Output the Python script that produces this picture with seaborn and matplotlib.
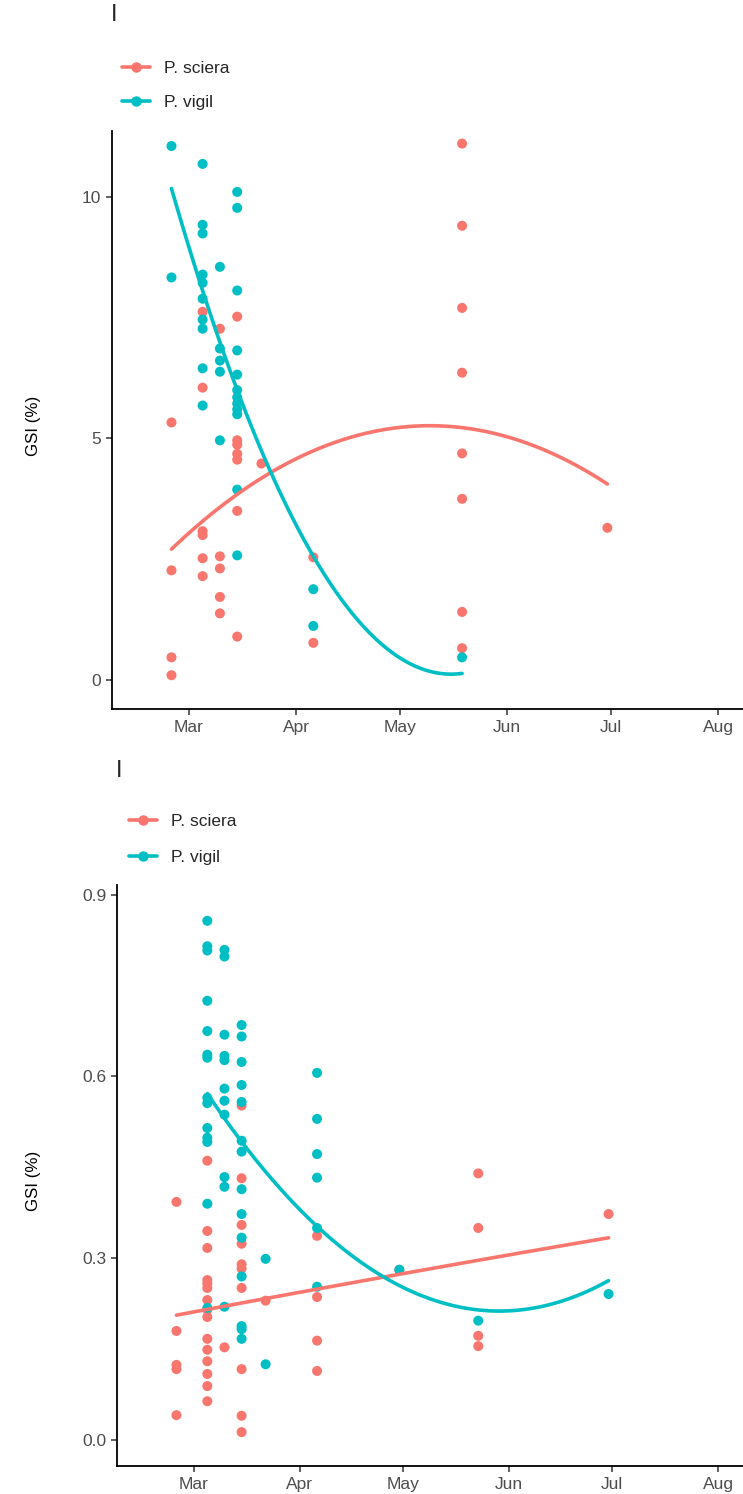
import matplotlib
matplotlib.use("Agg")
import matplotlib.pyplot as plt
from matplotlib.lines import Line2D
import numpy as np
import pandas as pd
import seaborn as sns

species = ["P. sciera", "P. vigil"]
palette = ["#F8766D", "#00BFC4"]

month_dates = ["2019-03-01", "2019-04-01", "2019-05-01", "2019-06-01", "2019-07-01", "2019-08-01"]
month_labels = ["Mar", "Apr", "May", "Jun", "Jul", "Aug"]

# panel 1 (upper)
p1_sciera_date = (["2019-02-24"] * 4 + ["2019-03-05"] * 6 + ["2019-03-10"] * 5 + ["2019-03-15"] * 7
                  + ["2019-03-22"] + ["2019-04-06"] * 2 + ["2019-05-19"] * 8 + ["2019-06-30"])
p1_sciera_gsi = [5.33, 2.27, 0.47, 0.10,
                 7.62, 6.05, 3.08, 3.00, 2.52, 2.15,
                 7.27, 2.56, 2.31, 1.72, 1.38,
                 7.52, 4.96, 4.87, 4.68, 4.56, 3.50, 0.90,
                 4.48,
                 2.54, 0.77,
                 11.10, 9.40, 7.70, 6.36, 4.69, 3.75, 1.41, 0.66,
                 3.15]
p1_vigil_date = (["2019-02-24"] * 2 + ["2019-03-05"] * 10 + ["2019-03-10"] * 5 + ["2019-03-15"] * 12
                 + ["2019-04-06"] * 2 + ["2019-05-19"])
p1_vigil_gsi = [11.05, 8.33,
                10.68, 9.42, 9.24, 8.39, 8.22, 7.89, 7.46, 7.27, 6.45, 5.68,
                8.55, 6.86, 6.61, 6.38, 4.96,
                10.10, 9.77, 8.06, 6.82, 6.32, 6.00, 5.85, 5.72, 5.60, 5.50, 3.94, 2.58,
                1.88, 1.12,
                0.47]

# panel 2 (lower)
p2_sciera_date = (["2019-02-24"] * 5 + ["2019-03-05"] * 15 + ["2019-03-10"] + ["2019-03-15"] * 10
                  + ["2019-03-22"] + ["2019-04-06"] * 4 + ["2019-04-30"] + ["2019-05-23"] * 4 + ["2019-06-30"])
p2_sciera_gsi = [0.393, 0.180, 0.124, 0.117, 0.041,
                 0.461, 0.345, 0.317, 0.264, 0.258, 0.251, 0.231, 0.215, 0.203, 0.167, 0.149, 0.130, 0.109, 0.089, 0.064,
                 0.153,
                 0.552, 0.432, 0.355, 0.324, 0.290, 0.283, 0.251, 0.117, 0.040, 0.013,
                 0.230,
                 0.337, 0.236, 0.164, 0.114,
                 0.281,
                 0.440, 0.350, 0.172, 0.155,
                 0.373]
p2_vigil_date = (["2019-03-05"] * 14 + ["2019-03-10"] * 11 + ["2019-03-15"] * 14 + ["2019-03-22"] * 2
                 + ["2019-04-06"] * 6 + ["2019-04-30"] + ["2019-05-23"] + ["2019-06-30"])
p2_vigil_gsi = [0.857, 0.815, 0.808, 0.725, 0.675, 0.636, 0.631, 0.565, 0.556, 0.515, 0.499, 0.492, 0.390, 0.218,
                0.809, 0.798, 0.669, 0.634, 0.627, 0.580, 0.560, 0.537, 0.434, 0.418, 0.220,
                0.685, 0.666, 0.624, 0.586, 0.558, 0.494, 0.476, 0.414, 0.373, 0.334, 0.270, 0.188, 0.183, 0.167,
                0.299, 0.125,
                0.606, 0.530, 0.472, 0.433, 0.350, 0.253,
                0.281,
                0.197,
                0.241]


def day_num(dates):
    # days since Jan 1 so regplot can fit on a numeric axis
    return (pd.to_datetime(pd.Series(dates)) - pd.Timestamp("2019-01-01")).dt.days.to_numpy()


def make_df(sc_date, sc_gsi, vi_date, vi_gsi):
    a = pd.DataFrame({"day": day_num(sc_date), "gsi": sc_gsi, "species": species[0]})
    b = pd.DataFrame({"day": day_num(vi_date), "gsi": vi_gsi, "species": species[1]})
    return pd.concat([a, b], ignore_index=True)


df1 = make_df(p1_sciera_date, p1_sciera_gsi, p1_vigil_date, p1_vigil_gsi)
df2 = make_df(p2_sciera_date, p2_sciera_gsi, p2_vigil_date, p2_vigil_gsi)

sns.set_theme(style="ticks")
plt.rcParams["font.family"] = ["Liberation Sans", "DejaVu Sans"]

fig = plt.figure(figsize=(7.43, 14.94), dpi=100)
ax1 = fig.add_axes([0.1507, 0.5254, 0.8493, 0.3869])
ax2 = fig.add_axes([0.1581, 0.0187, 0.8419, 0.3889])


def draw(ax, df, yticks, ylabels, ylim, label_x):
    sns.scatterplot(data=df, x="day", y="gsi", hue="species", hue_order=species, palette=palette,
                    s=52, edgecolor="none", linewidth=0, legend=False, ax=ax, zorder=3)
    # quadratic trend per species
    for sp, col in zip(species, palette):
        sns.regplot(data=df[df.species == sp], x="day", y="gsi", order=2, ci=None, scatter=False,
                    truncate=True, color=col, line_kws=dict(lw=2.6, zorder=4), ax=ax)
    ax.set_xlim(36.8, 219.2)
    ax.set_ylim(*ylim)
    ax.set_xticks(day_num(month_dates))
    ax.set_xticklabels(month_labels)
    ax.set_yticks(yticks)
    ax.set_yticklabels(ylabels)
    ax.set_xlabel("")
    ax.set_ylabel("GSI (%)", fontsize=12.2, color="black")
    ax.yaxis.set_label_coords(label_x, 0.49)
    for s in ["top", "right"]:
        ax.spines[s].set_visible(False)
    for s in ["left", "bottom"]:
        ax.spines[s].set_color("black")
        ax.spines[s].set_linewidth(1.3)
    ax.tick_params(axis="both", labelsize=12.5, labelcolor="#4D4D4D", color="#333333",
                   length=4, width=1.1, pad=4)
    ax.grid(False)


draw(ax1, df1, [0, 5, 10], ["0", "5", "10"], (-0.6, 11.36), -0.1125)
draw(ax2, df2, [0.0, 0.3, 0.6, 0.9], ["0.0", "0.3", "0.6", "0.9"], (-0.043, 0.916), -0.122)

handles = [Line2D([0], [0], color=c, lw=2.6, marker="o", ms=6.5) for c in palette]
for x0, ytop, xi, yi, ls in [(0.1642, 0.9595, 111, 15, 1.1), (0.1736, 0.4555, 116, 771, 1.25)]:
    fig.legend(handles, species, loc="upper left", bbox_to_anchor=(x0, ytop), frameon=False,
               fontsize=12.5, handlelength=1.6, handletextpad=0.8, labelspacing=ls,
               borderpad=0, borderaxespad=0)
    fig.text(xi / 743, 1 - yi / 1494, "I", fontsize=17, ha="left", va="center")

fig.savefig("out.png", dpi=100)
